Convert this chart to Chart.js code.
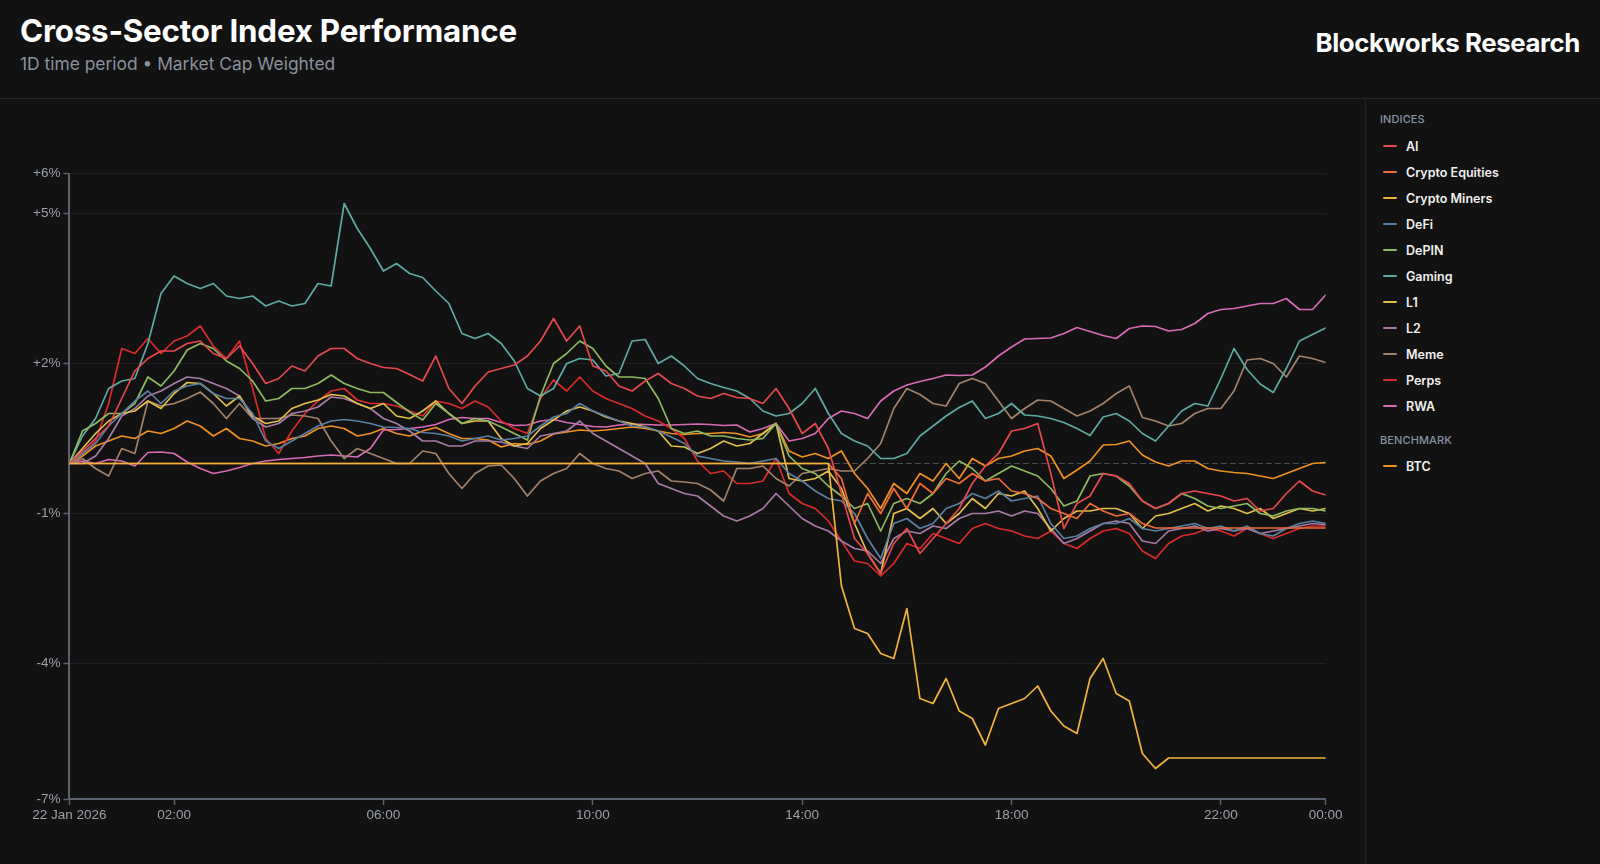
<!DOCTYPE html>
<html>
<head>
<meta charset="utf-8">
<script src="https://cdn.jsdelivr.net/npm/chart.js@4.4.1/dist/chart.umd.min.js"></script>
<style>
  html, body { margin:0; padding:0; background:#121212; width:1600px; height:864px; overflow:hidden; }
  body { position:relative; font-family: Inter, "Noto Sans", sans-serif; }
  #title { position:absolute; left:20px; top:16px; font-size:31.3px; line-height:1; font-weight:700; color:#ffffff; letter-spacing:-0.2px; white-space:nowrap; }
  #subtitle { position:absolute; left:20px; top:55px; font-size:17.4px; line-height:1; font-weight:400; color:#8a919c; white-space:nowrap; }
  #brand { position:absolute; right:20px; top:30px; font-size:25.8px; line-height:1; font-weight:700; color:#ffffff; letter-spacing:-0.4px; white-space:nowrap; }
  #hline { position:absolute; left:0; top:98px; width:1600px; height:1px; background:#242424; }
  #vline { position:absolute; left:1365px; top:99px; width:1px; height:765px; background:#242424; }
  #chartbox { position:absolute; left:0; top:100px; width:1365px; height:764px; }
  #legend { position:absolute; left:1380px; top:0; width:210px; }
  .lg-head { position:absolute; left:0; height:15px; line-height:15px; font-size:11px; font-weight:500; color:#8792a2; letter-spacing:0.1px; }
  .lg-item { position:absolute; left:0; height:26px; display:flex; align-items:center; }
  .lg-sw { width:14px; height:2px; border-radius:1px; margin-left:3px; margin-right:9px; }
  .lg-txt { font-size:12.5px; font-weight:600; color:#f0f0f0; white-space:nowrap; }
</style>
</head>
<body>
<div id="title">Cross-Sector Index Performance</div>
<div id="subtitle">1D time period • Market Cap Weighted</div>
<div id="brand">Blockworks Research</div>
<div id="hline"></div>
<div id="vline"></div>
<div id="chartbox"><canvas id="c" width="1365" height="764"></canvas></div>
<div id="legend"></div>
<script>
// ---------- DATA ----------
// hours after 22 Jan 2026 00:00
const times = [0,0.25,0.5,0.75,1,1.25,1.5,1.75,2,2.25,2.5,2.75,3,3.25,3.5,3.75,4,4.25,4.5,4.75,5,5.25,5.5,5.75,6,6.25,6.5,6.75,7,7.25,7.5,7.75,8,8.25,8.5,8.75,9,9.25,9.5,9.75,10,10.25,10.5,10.75,11,11.25,11.5,11.75,12,12.25,12.5,12.75,13,13.25,13.5,13.75,14,14.25,14.5,14.75,15,15.25,15.5,15.75,16,16.25,16.5,16.75,17,17.25,17.5,17.75,18,18.25,18.5,18.75,19,19.25,19.5,19.75,20,20.25,20.5,20.75,21,21.25,21.5,21.75,22,22.25,22.5,22.75,23,23.25,23.5,23.75,24];

const seriesNames = ["AI","Crypto Equities","Crypto Miners","DeFi","DePIN","Gaming","L1","L2","Meme","Perps","RWA"];
const benchmarkNames = ["BTC"];

const aiValues = [0,0.25,0.5,0.75,1.3,1.85,2.1,2.25,2.25,2.4,
 2.45,2.2,2.1,2.35,2.0,1.6,1.7,1.95,1.85,2.15,
 2.3,2.3,2.1,2.0,1.92,1.9,1.78,1.65,2.15,1.5,
 1.2,1.55,1.83,1.9,1.97,2.15,2.45,2.9,2.45,2.75,
 1.95,1.85,1.55,1.45,1.65,1.8,1.6,1.5,1.35,1.3,
 1.4,1.32,1.3,1.2,1.5,1.1,0.6,0.8,0.3,-0.6,
 -1.5,-1.8,-2.2,-1.6,-1.3,-1.8,-1.5,-1.2,-0.9,-0.4,
 -0.05,0.2,0.65,0.7,0.8,-0.2,-1.3,-0.8,-0.65,-0.2,
 -0.25,-0.4,-0.75,-0.9,-0.8,-0.6,-0.55,-0.6,-0.65,-0.75,
 -0.7,-0.95,-0.9,-0.6,-0.35,-0.55,-0.63];

const cryptoEquitiesValues = [0,0,0,0,0,0,0,0,0,0,
 0,0,0,0,0,0,0,0,0,0,
 0,0,0,0,0,0,0,0,0,0,
 0,0,0,0,0,0,0,0,0,0,
 0,0,0,0,0,0,0,0,0,0,
 0,0,0,0,0,0,0,0,0,-0.3,
 -1.2,-0.6,-1.0,-0.5,-0.9,-0.4,-0.6,-0.3,-0.4,-0.2,
 -0.35,-0.3,-0.55,-0.6,-0.7,-0.9,-1.0,-1.1,-0.8,-0.95,
 -1.05,-1.0,-1.2,-1.29,-1.29,-1.29,-1.29,-1.29,-1.29,-1.29,
 -1.29,-1.29,-1.29,-1.29,-1.29,-1.29,-1.29];

const cryptoMinersValues = [0,0,0,0,0,0,0,0,0,0,
 0,0,0,0,0,0,0,0,0,0,
 0,0,0,0,0,0,0,0,0,0,
 0,0,0,0,0,0,0,0,0,0,
 0,0,0,0,0,0,0,0,0,0,
 0,0,0,0,0,0,0,0,0,-2.45,
 -3.3,-3.4,-3.8,-3.9,-2.9,-4.7,-4.8,-4.3,-4.95,-5.1,
 -5.63,-4.9,-4.8,-4.7,-4.45,-4.95,-5.25,-5.4,-4.3,-3.9,
 -4.6,-4.75,-5.8,-6.1,-5.89,-5.89,-5.89,-5.89,-5.89,-5.89,
 -5.89,-5.89,-5.89,-5.89,-5.89,-5.89,-5.89];

const defiValues = [0,0.2,0.4,0.75,1.0,1.25,1.45,1.2,1.45,1.55,
 1.6,1.4,1.3,1.3,1.0,0.45,0.3,0.45,0.6,0.75,
 0.85,0.88,0.85,0.8,0.73,0.72,0.7,0.62,0.6,0.55,
 0.45,0.5,0.55,0.47,0.5,0.55,0.75,0.93,1.0,1.2,
 1.05,0.95,0.85,0.75,0.73,0.65,0.53,0.4,0.15,0.1,
 0.05,0.03,0.0,0.05,0.1,-0.2,-0.35,-0.55,-0.7,-0.75,
 -1.0,-1.5,-1.9,-1.2,-1.1,-1.3,-1.2,-0.9,-0.8,-0.6,
 -0.7,-0.55,-0.75,-0.7,-0.65,-1.2,-1.5,-1.45,-1.3,-1.2,
 -1.2,-1.1,-1.3,-1.35,-1.3,-1.25,-1.2,-1.3,-1.25,-1.35,
 -1.25,-1.4,-1.45,-1.3,-1.2,-1.15,-1.2];

const depinValues = [0,0.65,0.8,1.0,1.0,1.2,1.73,1.55,1.85,2.27,
 2.4,2.3,2.05,1.9,1.65,1.25,1.3,1.5,1.5,1.6,
 1.77,1.6,1.5,1.42,1.42,1.22,1.03,0.87,1.2,1.0,
 0.8,0.9,0.85,0.73,0.6,0.47,1.35,2.0,2.2,2.45,
 2.3,1.95,1.73,1.73,1.7,1.3,0.7,0.6,0.65,0.55,
 0.55,0.5,0.47,0.5,0.8,0.15,-0.1,-0.2,-0.45,-0.65,
 -0.9,-0.8,-1.35,-0.8,-0.7,-0.8,-0.6,-0.2,0.05,-0.1,
 -0.35,-0.2,-0.05,-0.15,-0.25,-0.5,-0.85,-0.75,-0.25,-0.2,
 -0.25,-0.45,-0.75,-0.9,-0.8,-0.6,-0.7,-0.85,-0.9,-0.85,
 -0.8,-1.0,-1.05,-0.95,-0.9,-0.9,-0.95];

const gamingValues = [0,0.55,0.9,1.5,1.65,1.7,2.4,3.4,3.75,3.6,
 3.5,3.6,3.35,3.3,3.35,3.15,3.25,3.15,3.2,3.6,
 3.55,5.2,4.7,4.3,3.85,4.0,3.8,3.72,3.45,3.2,
 2.6,2.5,2.6,2.4,2.05,1.5,1.35,1.5,2.0,2.1,
 2.07,1.75,1.8,2.45,2.48,2.0,2.15,1.95,1.7,1.6,
 1.52,1.45,1.3,1.05,0.95,1.0,1.2,1.5,1.0,0.6,
 0.45,0.35,0.1,0.1,0.2,0.55,0.75,0.95,1.12,1.25,
 0.9,1.0,1.2,0.97,0.95,0.9,0.82,0.7,0.56,0.93,
 1.0,0.85,0.6,0.45,0.75,1.05,1.2,1.15,1.7,2.3,
 1.88,1.59,1.42,1.9,2.45,2.58,2.71];

const l1Values = [0,0.3,0.6,0.85,1.0,1.05,1.25,1.1,1.4,1.62,
 1.6,1.4,1.15,1.35,0.95,0.8,0.85,1.1,1.2,1.27,
 1.38,1.35,1.2,1.1,1.2,0.95,0.9,1.05,1.25,1.0,
 0.8,0.85,0.85,0.5,0.35,0.4,0.7,0.87,1.05,1.13,
 1.05,0.93,0.85,0.8,0.73,0.65,0.35,0.33,0.2,0.3,
 0.45,0.35,0.4,0.6,0.8,-0.3,-0.35,-0.3,-0.15,-0.5,
 -1.2,-1.8,-2.2,-1.0,-0.9,-1.1,-0.9,-1.2,-1.0,-0.7,
 -0.9,-0.6,-0.65,-0.55,-0.9,-1.35,-1.1,-0.95,-0.95,-0.9,
 -0.9,-1.0,-1.3,-1.05,-1.0,-0.9,-0.8,-0.95,-0.85,-0.9,
 -1.0,-0.9,-1.1,-1.0,-0.9,-0.95,-0.9];

const l2Values = [0,0.0,0.15,0.5,0.95,1.1,1.35,1.45,1.6,1.73,
 1.7,1.6,1.5,1.35,0.9,0.73,0.8,1.0,1.05,1.13,
 1.33,1.3,1.2,1.1,0.9,0.8,0.65,0.45,0.45,0.35,
 0.35,0.45,0.45,0.43,0.35,0.3,0.55,0.6,0.65,0.85,
 0.6,0.45,0.3,0.15,0.0,-0.4,-0.5,-0.6,-0.65,-0.85,
 -1.05,-1.15,-1.05,-0.9,-0.6,-0.85,-1.1,-1.25,-1.35,-1.55,
 -1.7,-1.75,-2.0,-1.5,-1.35,-1.4,-1.25,-1.3,-1.1,-1.0,
 -1.0,-0.95,-1.05,-0.95,-1.0,-1.3,-1.6,-1.5,-1.35,-1.2,
 -1.15,-1.2,-1.55,-1.6,-1.35,-1.3,-1.25,-1.35,-1.3,-1.35,
 -1.3,-1.4,-1.35,-1.3,-1.25,-1.2,-1.22];

const memeValues = [0,0.1,-0.1,-0.25,0.3,0.2,1.25,1.15,1.2,1.3,
 1.43,1.2,0.9,1.2,0.9,0.9,0.9,0.97,0.95,0.9,
 0.45,0.1,0.3,0.2,0.1,0.0,0.0,0.25,0.2,-0.2,
 -0.5,-0.2,-0.05,-0.03,-0.3,-0.65,-0.35,-0.2,-0.1,0.2,
 0.0,-0.1,-0.15,-0.3,-0.2,-0.15,-0.35,-0.37,-0.4,-0.53,
 -0.75,-0.1,-0.1,-0.05,-0.3,-0.45,-0.2,-0.15,-0.1,-0.15,
 -0.15,0.1,0.4,1.1,1.5,1.38,1.2,1.15,1.6,1.7,
 1.6,1.25,0.9,1.1,1.27,1.25,1.1,0.95,1.05,1.2,
 1.4,1.55,0.92,0.85,0.75,0.8,1.0,1.1,1.1,1.45,
 2.07,2.1,2.0,1.73,2.15,2.1,2.02];

const perpsValues = [0,0.2,0.45,1.2,2.3,2.2,2.5,2.2,2.45,2.55,
 2.75,2.35,2.1,2.45,1.5,0.5,0.2,0.65,1.0,1.25,
 1.45,1.5,1.27,1.2,1.2,1.15,1.05,0.95,1.25,1.2,
 1.1,1.25,1.13,0.85,0.7,0.6,1.3,1.67,1.45,1.73,
 1.45,1.3,1.2,1.1,0.95,0.85,0.7,0.5,0.05,-0.2,
 -0.15,-0.4,-0.4,-0.35,0.1,-0.6,-0.8,-0.9,-1.15,-1.55,
 -1.95,-2.0,-2.25,-2.0,-1.6,-1.7,-1.4,-1.5,-1.6,-1.3,
 -1.2,-1.3,-1.35,-1.45,-1.5,-1.35,-1.6,-1.7,-1.5,-1.35,
 -1.3,-1.4,-1.75,-1.9,-1.6,-1.45,-1.4,-1.3,-1.35,-1.45,
 -1.3,-1.4,-1.5,-1.4,-1.3,-1.25,-1.25];

const rwaValues = [0,0.05,0.0,0.08,0.05,-0.05,0.22,0.23,0.2,0.03,
 -0.1,-0.2,-0.15,-0.08,0.0,0.05,0.08,0.1,0.12,0.15,
 0.17,0.15,0.13,0.3,0.67,0.68,0.7,0.73,0.78,0.88,
 0.92,0.9,0.9,0.82,0.76,0.77,0.85,0.88,0.82,0.78,
 0.74,0.73,0.77,0.79,0.78,0.77,0.77,0.78,0.79,0.78,
 0.76,0.77,0.63,0.7,0.8,0.45,0.5,0.6,0.9,1.05,
 1.0,0.9,1.25,1.45,1.57,1.64,1.7,1.77,1.76,1.77,
 1.93,2.15,2.33,2.49,2.5,2.51,2.6,2.72,2.64,2.56,
 2.5,2.7,2.75,2.74,2.65,2.68,2.8,3.0,3.08,3.1,
 3.15,3.2,3.2,3.3,3.08,3.08,3.37];

const btcValues = [0,0.15,0.35,0.45,0.55,0.5,0.65,0.6,0.7,0.85,
 0.75,0.55,0.7,0.5,0.45,0.35,0.4,0.5,0.55,0.7,
 0.75,0.7,0.55,0.6,0.7,0.6,0.55,0.65,0.72,0.6,
 0.5,0.5,0.47,0.33,0.4,0.38,0.45,0.59,0.63,0.67,
 0.65,0.67,0.7,0.73,0.7,0.65,0.6,0.58,0.6,0.6,
 0.62,0.6,0.53,0.6,0.8,0.25,0.13,0.2,0.1,0.25,
 -0.2,-0.5,-0.9,-0.4,-0.6,-0.2,-0.35,0.0,-0.3,0.1,
 -0.05,0.1,0.15,0.25,0.3,0.15,-0.3,-0.13,0.05,0.37,
 0.38,0.45,0.17,0.03,-0.05,0.05,0.05,-0.1,-0.15,-0.18,
 -0.2,-0.25,-0.3,-0.2,-0.1,0.0,0.02];

const seriesValues = [aiValues, cryptoEquitiesValues, cryptoMinersValues, defiValues, depinValues, gamingValues, l1Values, l2Values, memeValues, perpsValues, rwaValues];
const benchmarkValues = [btcValues];

const seriesColors = ["#e5484d","#f06b38","#f0b43c","#5a7fa3","#8db960","#5fa9a3","#e2bf48","#a87aa6","#a3826b","#d92b2b","#d86ab6"];
const benchmarkColors = ["#f0901f"];
// drawing order (lower = on top)
const seriesOrder = [2, 1, 0, 2, 2, 2, 2, 2, 2, 2, 2];
const benchmarkOrder = [3];

const yTickValues = [-6.71, -4, -1, 2, 5, 5.8];
const yTickLabels = ["-7%", "-4%", "-1%", "+2%", "+5%", "+6%"];
const xTickValues = [0, 2, 6, 10, 14, 18, 22, 24];
const xTickLabels = ["22 Jan 2026", "02:00", "06:00", "10:00", "14:00", "18:00", "22:00", "00:00"];
const baselineTimes = [0, 24];
const baselineValues = [0, 0];

// ---------- LEGEND (HTML) ----------
const legend = document.getElementById('legend');
function addHead(text, top) {
  const d = document.createElement('div'); d.className = 'lg-head'; d.style.top = top + 'px'; d.textContent = text; legend.appendChild(d);
}
function addItem(name, color, top) {
  const d = document.createElement('div'); d.className = 'lg-item'; d.style.top = top + 'px';
  const s = document.createElement('div'); s.className = 'lg-sw'; s.style.background = color;
  const t = document.createElement('div'); t.className = 'lg-txt'; t.textContent = name;
  d.appendChild(s); d.appendChild(t); legend.appendChild(d);
}
addHead('INDICES', 112);
seriesNames.forEach((n, i) => addItem(n, seriesColors[i], 133 + i * 26));
addHead('BENCHMARK', 432.5);
benchmarkNames.forEach((n, i) => addItem(n, benchmarkColors[i], 453 + i * 26));

// ---------- CHART ----------
const toPoints = (vals) => times.map((t, i) => ({ x: t, y: vals[i] }));
const datasets = [];
seriesNames.forEach((n, i) => datasets.push({ label: n, data: toPoints(seriesValues[i]), borderColor: seriesColors[i], backgroundColor: seriesColors[i], borderWidth: 1.7, order: seriesOrder[i] }));
benchmarkNames.forEach((n, i) => datasets.push({ label: n, data: toPoints(benchmarkValues[i]), borderColor: benchmarkColors[i], backgroundColor: benchmarkColors[i], borderWidth: 1.7, order: benchmarkOrder[i] }));
datasets.push({ label: 'baseline', data: baselineTimes.map((t, i) => ({ x: t, y: baselineValues[i] })), borderColor: '#4a4d52', borderWidth: 1.2, borderDash: [5, 4], order: 10 });

const axisColor = '#5b616c';
const tickFont = { family: "'Liberation Sans', Arial, sans-serif", size: 13.5 };

new Chart(document.getElementById('c'), {
  type: 'line',
  data: { datasets },
  options: {
    responsive: false,
    animation: false,
    layout: { padding: { top: 73.5, right: 39.4, bottom: 25, left: 0 } },
    plugins: { legend: { display: false }, tooltip: { enabled: false } },
    elements: { point: { radius: 0, hoverRadius: 0 }, line: { tension: 0, borderCapStyle: 'round', borderJoinStyle: 'round' } },
    scales: {
      x: {
        type: 'linear', min: 0, max: 24,
        afterBuildTicks: (s) => { s.ticks = xTickValues.map(v => ({ value: v })); },
        afterFit: (s) => { s.height = 40; },
        ticks: { autoSkip: false, maxRotation: 0, color: '#9aa0a8', font: tickFont, padding: 2,
          callback: (v, i) => xTickLabels[i] },
        grid: { drawOnChartArea: false, drawTicks: true, tickLength: 6, tickColor: axisColor, tickWidth: 1.5 },
        border: { display: true, color: axisColor, width: 2 }
      },
      y: {
        type: 'linear', min: -6.71, max: 5.8,
        afterBuildTicks: (s) => { s.ticks = yTickValues.map(v => ({ value: v })); },
        afterFit: (s) => { s.width = 69.4; },
        ticks: { autoSkip: false, color: '#9aa0a8', font: tickFont, padding: 3,
          callback: (v, i) => yTickLabels[i] },
        grid: { color: 'rgba(255,255,255,0.055)', lineWidth: 1, drawTicks: true, tickLength: 6, tickColor: axisColor, tickWidth: 1.5 },
        border: { display: true, color: axisColor, width: 2 }
      }
    }
  }
});
</script>
</body>
</html>
